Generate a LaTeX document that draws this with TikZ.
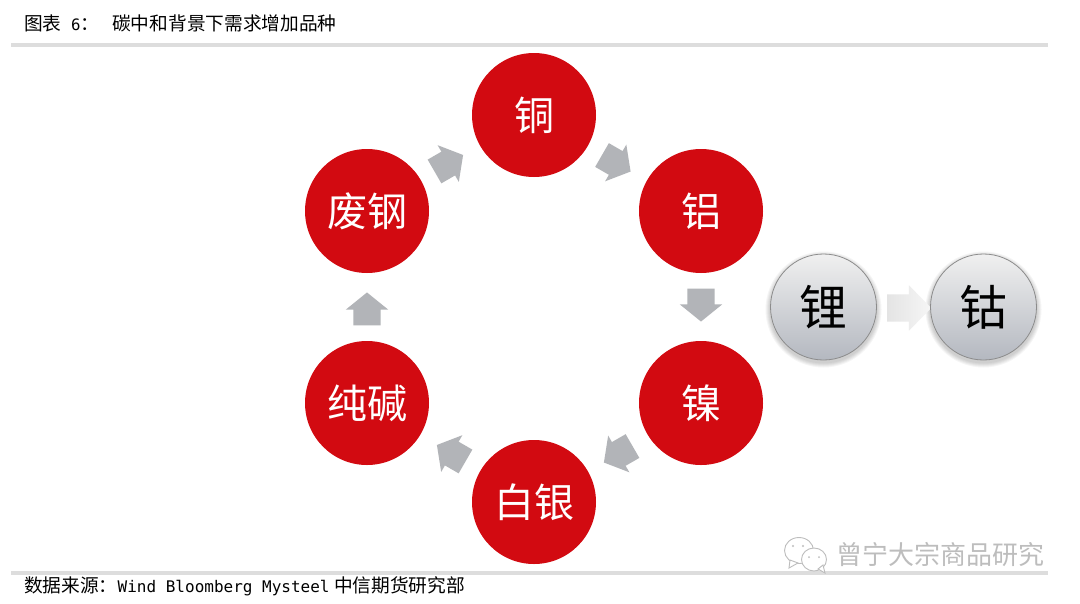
\documentclass[tikz,border=0pt]{standalone}
\usepackage{fontspec}
\setmainfont{Noto Sans CJK SC}
\newfontfamily\monof{DejaVu Sans Mono}
\usetikzlibrary{shapes.arrows,calc}
\definecolor{redc}{HTML}{D20A11}
\definecolor{arrowc}{HTML}{B2B4B8}
\definecolor{rulec}{HTML}{DDDDDD}
\definecolor{wmc}{HTML}{BDBDBD}
\definecolor{HTMLtop}{HTML}{F0F0F0}
\definecolor{HTMLbot}{HTML}{B4B8C0}
\definecolor{ballline}{HTML}{8C8C8C}
\definecolor{HTMLlightL}{HTML}{E4E4E4}
\definecolor{HTMLlightR}{HTML}{F6F6F6}
\newcommand{\fsz}[1]{\fontsize{#1}{#1}\selectfont}
\newcommand{\shaftw}{\rule{0pt}{27pt}}
\tikzset{
  redball/.style={circle,fill=redc,draw=none,minimum size=124pt,inner sep=0pt,text=white,font=\fsz{40}},
  greyball/.style={circle,top color=HTMLtop,bottom color=HTMLbot,draw=ballline,line width=0.8pt,minimum size=106pt,inner sep=0pt,text=black,font=\fsz{48}},
  blockarrow/.style={single arrow,single arrow head extend=7.5pt,single arrow tip angle=102,single arrow head indent=0pt,minimum height=33pt,inner sep=0pt,draw=none,anchor=center},
  greyarrow/.style={blockarrow,fill=arrowc},
  lightarrow/.style={blockarrow,minimum height=44pt,single arrow head extend=9pt,single arrow tip angle=91,left color=HTMLlightL,right color=HTMLlightR},
  rulebar/.style={draw=none,fill=rulec},
  capt/.style={anchor=west,inner sep=0pt,font=\fsz{18.7},text=black},
  bubble/.style={draw=wmc,line width=0.9pt,fill=white}
}
\begin{document}
\begin{tikzpicture}[x=1pt,y=-1pt]
\useasboundingbox[fill=white] (0,0) rectangle (1080,603);
% rules
\fill[rulebar] (11,43) rectangle (1048,47);
\fill[rulebar] (11,571) rectangle (1048,575);
% captions
\node[capt] (title) at (24,23) {图表{\monof\fsz{15.7} 6}：\hspace{13pt}碳中和背景下需求增加品种};
\node[capt] (source) at (24,586) {数据来源：{\monof\fsz{16}Wind Bloomberg Mysteel}\hspace{4.5pt}中信期货研究部};
% red ring
\node[redball] (cu) at (534,115) {铜};
\node[redball] (al) at (701,211) {铝};
\node[redball] (ni) at (701,403) {镍};
\node[redball] (ag) at (534,502) {白银};
\node[redball] (soda) at (367,403) {纯碱};
\node[redball] (scrap) at (367,211) {废钢};
% block arrows
\node[greyarrow,rotate=-30] (a1) at ($(cu)!0.5!(al)+(-6,-2.5)$) {\shaftw};
\node[greyarrow,rotate=-90] (a2) at ($(al)!0.5!(ni)+(0,-7.5)$) {\shaftw};
\node[greyarrow,rotate=-150] (a3) at ($(ni)!0.5!(ag)+(5.5,-1)$) {\shaftw};
\node[greyarrow,rotate=150] (a4) at ($(ag)!0.5!(soda)+(5.5,3.5)$) {\shaftw};
\node[greyarrow,rotate=90] (a5) at ($(soda)!0.5!(scrap)+(0,7.5)$) {\shaftw};
\node[greyarrow,rotate=30] (a6) at ($(scrap)!0.5!(cu)+(-6.5,3)$) {\shaftw};
% grey balls
\coordinate (li) at (823.5,307);
\coordinate (co) at (983.5,307);
\foreach \c in {li,co}{
  \foreach \r in {58,57,56,55,54}{
    \fill[black,opacity=0.04] ($(\c)+(0,2.5)$) circle (\r pt);
  }
}
\node[lightarrow] (a7) at (902.5,308) {\shaftw};
\node[greyball] (lithium) at (li) {锂};
\node[greyball] (cobalt) at (co) {钴};
% watermark
\fill[bubble] (799,550.5) ellipse (14.5pt and 13pt);
\fill[bubble] (790,560) -- (789,568) -- (798,563) -- cycle;
\fill[bubble] (814,559.5) ellipse (12.5pt and 11.5pt);
\fill[bubble] (818,569) -- (825,573) -- (823,565) -- cycle;
\fill[wmc] (793,546) circle (1.2pt) (803,546) circle (1.2pt) (809,557) circle (1pt) (819,557) circle (1pt);
\node[anchor=west,inner sep=0pt,font=\fsz{26},text=wmc] (wm) at (836,555) {曾宁大宗商品研究};
\end{tikzpicture}
\end{document}
